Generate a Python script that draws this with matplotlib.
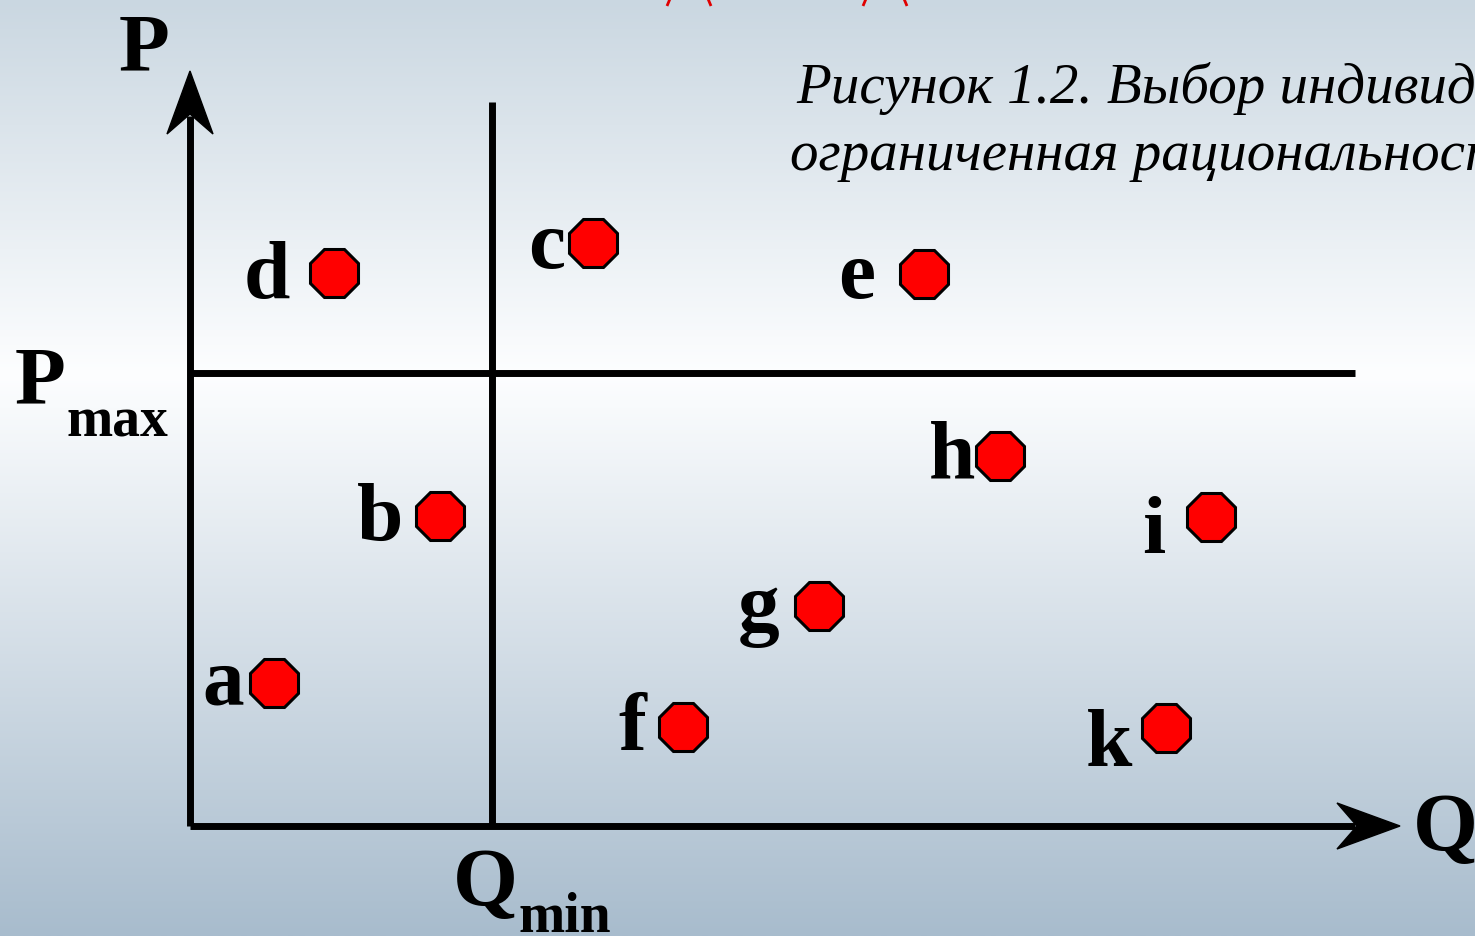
import numpy as np
import matplotlib
matplotlib.use("Agg")
import matplotlib.pyplot as plt
from matplotlib.patches import Polygon

# точки выбора (Q, P) в единицах рисунка, начало координат в углу осей
names = ['a', 'b', 'c', 'd', 'e', 'f', 'g', 'h', 'i', 'k']
q_vals = [84, 250, 403, 144, 734, 493, 629, 810, 1021, 976]
p_vals = [143, 310, 583, 553, 552, 99, 220, 370, 309, 98]

p_max = 453
q_min = 302
q_axis_end = 1210
p_axis_end = 755
p_max_line_end = 1165
q_min_line_top = 724

caption = ["Рисунок 1.2. Выбор индивида:", "ограниченная рациональность"]

# смещения подписей (px): правый край буквы и базовая линия относительно точки
label_offsets = {
    'a': (-30, -21), 'b': (-37, -23), 'c': (-28, -24), 'd': (-44, -24),
    'e': (-49, -23), 'f': (-37, -22), 'g': (-39, -23), 'h': (-25, -21),
    'i': (-46, -35), 'k': (-34, -37),
}

W, H = 1475, 937
x0, y0 = 190, 827  # origin in pixels

fig = plt.figure(figsize=(W / 100, H / 100), dpi=100)
ax = fig.add_axes([0, 0, 1, 1])
ax.set_xlim(-x0, W - x0)
ax.set_ylim(y0 - H, y0)
ax.axis('off')

# фон с градиентом
stops_y = np.array([0.0, 0.40, 1.0])
stops_c = np.array([[202, 215, 225], [253, 254, 255], [168, 188, 205]]) / 255.0
t = np.linspace(0, 1, 400)
grad = np.stack([np.interp(t, stops_y, stops_c[:, k]) for k in range(3)], axis=1)
ax.imshow(grad[:, None, :], extent=(-x0, W - x0, y0 - H, y0), aspect='auto',
          zorder=0, interpolation='bilinear')

# красные элементы сверху (обрезанные)
for cx in [689, 885]:
    xs = cx - x0
    ax.plot([xs - 17, xs - 22], [y0 + 5, y0 - 7], color='#e00000', lw=2, zorder=1,
            solid_capstyle='butt')
    ax.plot([xs + 17, xs + 22], [y0 + 5, y0 - 7], color='#e00000', lw=2, zorder=1,
            solid_capstyle='butt')

lw = 5
ax.plot([0, 0], [0, p_axis_end - 45], color='black', lw=lw, zorder=2, solid_capstyle='butt')
ax.plot([0, q_axis_end - 45], [0, 0], color='black', lw=lw, zorder=2, solid_capstyle='butt')
ax.plot([0, p_max_line_end], [p_max, p_max], color='black', lw=lw, zorder=2,
        solid_capstyle='butt')
ax.plot([q_min, q_min], [0, q_min_line_top], color='black', lw=lw, zorder=2,
        solid_capstyle='butt')

# наконечники стрелок
ax.add_patch(Polygon([[0, p_axis_end], [-23, p_axis_end - 63], [0, p_axis_end - 43],
                      [23, p_axis_end - 63]], closed=True, color='black', zorder=3))
ax.add_patch(Polygon([[q_axis_end, 0], [q_axis_end - 63, 23], [q_axis_end - 43, 0],
                      [q_axis_end - 63, -23]], closed=True, color='black', zorder=3))

ax.plot(q_vals, p_vals, linestyle='none', marker='8', markersize=37,
        markerfacecolor='#ff0000', markeredgecolor='black', markeredgewidth=2.2, zorder=4)

bold = dict(family='Liberation Serif', fontweight='bold', color='black')
for n, q, p in zip(names, q_vals, p_vals):
    dx, dy = label_offsets[n]
    ax.annotate(n, (q, p), xytext=(dx, dy), textcoords='offset pixels',
                ha='right', va='baseline', fontsize=60, zorder=5, **bold)

# подписи осей
ax.text(144 - x0, y0 - 70, 'P', ha='center', va='baseline', fontsize=60, **bold)
ax.text(1413 - x0, y0 - 850, 'Q', ha='left', va='baseline', fontsize=60, **bold)
ax.text(15 - x0, y0 - 403, 'P', ha='left', va='baseline', fontsize=60, **bold)
ax.text(66 - x0, y0 - 437, 'max', ha='left', va='baseline', fontsize=40, **bold)
ax.text(453 - x0, y0 - 905, 'Q', ha='left', va='baseline', fontsize=60, **bold)
ax.text(518 - x0, y0 - 932, 'min', ha='left', va='baseline', fontsize=40, **bold)

# подпись рисунка
ax.text(796 - x0, y0 - 103, caption[0], ha='left', va='baseline', fontsize=41,
        family='Liberation Serif', style='italic', color='black')
ax.text(790 - x0, y0 - 170, caption[1], ha='left', va='baseline', fontsize=41,
        family='Liberation Serif', style='italic', color='black')

fig.savefig('out.png', dpi=100)
